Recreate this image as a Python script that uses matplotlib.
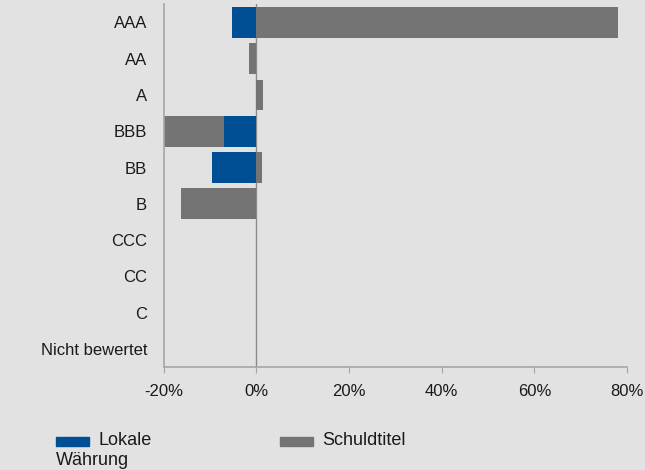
import matplotlib.pyplot as plt
import matplotlib.patches as mpatches
import numpy as np

categories = ["AAA", "AA", "A", "BBB", "BB", "B", "CCC", "CC", "C", "Nicht bewertet"]
lokale_waehrung = [-5.2, 0.0, 0.0, -7.1, -9.5, 0.0, 0.0, 0.0, 0.0, 0.0]
schuldtitel = [78.0, -1.7, 1.5, -12.9, 1.1, -16.2, 0.0, 0.0, 0.0, 0.0]
xticks = [-20, 0, 20, 40, 60, 80]

bg = "#e2e2e2"
blue = "#004f95"
grey = "#747474"
axis_col = "#a6a6a6"
text_col = "#1a1a1a"

plt.rcParams['font.family'] = ['Liberation Sans', 'DejaVu Sans']

fig = plt.figure(figsize=(6.45, 4.70), dpi=100, facecolor=bg)
ax = fig.add_axes([0.254, 0.219, 0.718, 0.772], facecolor=bg)

y = np.arange(len(categories))
lw = np.array(lokale_waehrung)
st = np.array(schuldtitel)
# stacked like Excel: negatives stack on negatives, positives on positives
left = np.where((st < 0) & (lw < 0), lw, 0)
ax.barh(y, st, left=left, height=0.85, color=grey, zorder=2)
ax.barh(y, lw, height=0.85, color=blue, zorder=3)

ax.axvline(0, color="#8c8c8c", lw=1, zorder=1)

ax.set_ylim(len(categories) - 0.5, -0.5)
ax.set_xlim(-20, 80)
ax.set_xticks(xticks)
ax.set_xticklabels([f"{t}%" for t in xticks])
ax.set_yticks(y)
ax.set_yticklabels(categories)

for s in ["top", "right"]:
    ax.spines[s].set_visible(False)
for s in ["left", "bottom"]:
    ax.spines[s].set_color(axis_col)
    ax.spines[s].set_linewidth(1.2)

ax.tick_params(axis="y", length=0, pad=12, labelsize=12, labelcolor=text_col)
ax.tick_params(axis="x", length=4, color=axis_col, pad=8, labelsize=12, labelcolor=text_col)

# legend drawn by hand
fig.patches.append(mpatches.Rectangle((56 / 645, 1 - 446 / 470), 33 / 645, 9 / 470,
                                      transform=fig.transFigure, color=blue))
fig.text(98 / 645, 1 - 445 / 470, "Lokale", fontsize=13, color=text_col, va="baseline")
fig.text(56 / 645, 1 - 465 / 470, "Währung", fontsize=13, color=text_col, va="baseline")
fig.patches.append(mpatches.Rectangle((280 / 645, 1 - 446 / 470), 33 / 645, 9 / 470,
                                      transform=fig.transFigure, color=grey))
fig.text(322 / 645, 1 - 445 / 470, "Schuldtitel", fontsize=13, color=text_col, va="baseline")

fig.savefig("out.png", facecolor=bg)
